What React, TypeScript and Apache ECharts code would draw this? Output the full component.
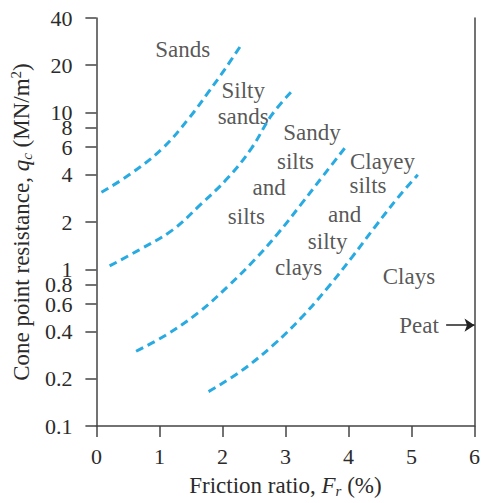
import React, { useEffect, useRef } from "react";
import * as echarts from "echarts";

// Friction ratio Fr (%) and cone resistance qc (MN/m2) along each zone boundary
const boundary1Fr = [0.08, 0.52, 1.05, 1.47, 1.78, 2.04, 2.3];
const boundary1Qc = [3.1, 4.0, 5.9, 9.2, 13.5, 18.9, 27];
const boundary2Fr = [0.21, 0.68, 1.2, 1.66, 2.09, 2.46, 2.78, 3.09];
const boundary2Qc = [1.05, 1.33, 1.77, 2.6, 3.84, 5.9, 9.6, 13.5];
const boundary3Fr = [0.63, 1.1, 1.62, 2.09, 2.51, 2.88, 3.25, 3.61, 3.98];
const boundary3Qc = [0.3, 0.38, 0.53, 0.78, 1.15, 1.69, 2.6, 4.0, 6.2];
const boundary4Fr = [1.78, 2.28, 2.8, 3.27, 3.69, 4.06, 4.42, 4.79, 5.1];
const boundary4Qc = [0.166, 0.222, 0.327, 0.5, 0.78, 1.2, 1.86, 2.88, 4.0];

const yTickValues = [0.1, 0.2, 0.4, 0.6, 0.8, 1, 2, 4, 6, 8, 10, 20, 40];
const xTickValues = [0, 1, 2, 3, 4, 5, 6];

// zone labels: text, Fr, qc
const zoneLabelTexts = ["Sands", "Silty", "sands", "Sandy", "silts", "and", "silts", "Clayey", "silts", "and", "silty", "clays", "Clays", "Peat"];
const zoneLabelFr = [1.37, 2.33, 2.33, 3.42, 3.16, 2.74, 2.38, 4.54, 4.31, 3.94, 3.67, 3.21, 4.96, 5.12];
const zoneLabelQc = [25.2, 13.8, 9.4, 7.4, 4.9, 3.3, 2.18, 4.9, 3.4, 2.25, 1.5, 1.02, 0.9, 0.44];

// Peat arrow (Fr start, Fr end, qc)
const peatArrowFr = [5.55, 6.0];
const peatArrowQc = 0.44;

const YMIN = 0.1;
const YMAX = 40;

const FONT = "'Liberation Serif', 'Times New Roman', serif";
const TEXT_COLOR = "#2b2b2b";
const AXIS_COLOR = "#444";
const CURVE_COLOR = "#29abe2";

const lg = (v: number) => Math.log10(v);

function curve(fr: number[], qc: number[]) {
  return fr.map((x, i) => [x, lg(qc[i])]);
}

const TITLE_SIZE = 23;
const titleRich = {
  a: { fontFamily: FONT, fontSize: TITLE_SIZE, color: TEXT_COLOR, lineHeight: 26 },
  i: { fontFamily: FONT, fontSize: TITLE_SIZE, fontStyle: "italic", color: TEXT_COLOR, lineHeight: 26 },
  sub: { fontFamily: FONT, fontSize: 15, fontStyle: "italic", color: TEXT_COLOR, verticalAlign: "bottom", lineHeight: 15, padding: [11, 0, 0, 0] },
  sup: { fontFamily: FONT, fontSize: 15, color: TEXT_COLOR, verticalAlign: "top", lineHeight: 15, padding: [0, 0, 9, 0] },
};

export default function App() {
  const ref = useRef<HTMLDivElement>(null);
  useEffect(() => {
    document.body.style.margin = "0";
    document.body.style.background = "#fff";
    if (!ref.current) return;
    const chart = echarts.init(ref.current, undefined, { renderer: "svg" });

    const curveSeries = [
      curve(boundary1Fr, boundary1Qc),
      curve(boundary2Fr, boundary2Qc),
      curve(boundary3Fr, boundary3Qc),
      curve(boundary4Fr, boundary4Qc),
    ].map((data) => ({
      type: "line",
      data,
      smooth: 0.4,
      showSymbol: false,
      silent: true,
      lineStyle: { color: CURVE_COLOR, width: 3, type: [8, 5], cap: "butt" },
    }));

    const option: any = {
      animation: false,
      backgroundColor: "#fff",
      grid: { left: 95, right: 5, top: 18, bottom: 71, containLabel: false },
      xAxis: {
        type: "value",
        min: 0,
        max: 6,
        interval: 1,
        name: "{a|Friction ratio, }{i|F}{sub|r}{a| (%)}",
        nameLocation: "middle",
        nameGap: 40,
        nameTextStyle: { rich: titleRich },
        axisLine: { show: true, onZero: false, lineStyle: { color: AXIS_COLOR, width: 1.5 } },
        axisTick: { show: true, inside: false, length: 11, lineStyle: { color: AXIS_COLOR, width: 1.5 } },
        axisLabel: {
          margin: 19,
          fontFamily: FONT,
          fontSize: 22,
          color: TEXT_COLOR,
          customValues: xTickValues,
        },
        splitLine: { show: false },
      },
      yAxis: [
        {
          type: "value",
          min: lg(YMIN),
          max: lg(YMAX),
          name: "{a|Cone point resistance, }{i|q}{sub|c}{a| (MN/m}{sup|2}{a|)}",
          nameLocation: "middle",
          nameGap: 60,
          nameRotate: 90,
          nameTextStyle: { rich: titleRich },
          axisLine: { show: true, onZero: false, lineStyle: { color: AXIS_COLOR, width: 1.5 } },
          axisTick: {
            show: true,
            inside: false,
            length: 11,
            lineStyle: { color: AXIS_COLOR, width: 1.5 },
            customValues: yTickValues.map(lg),
          },
          axisLabel: {
            margin: 24,
            fontFamily: FONT,
            fontSize: 22,
            lineHeight: 13,
            color: TEXT_COLOR,
            customValues: yTickValues.map(lg),
            formatter: (v: number) => String(parseFloat(Math.pow(10, v).toPrecision(3))),
          },
          splitLine: { show: false },
        },
        {
          type: "value",
          position: "right",
          min: lg(YMIN),
          max: lg(YMAX),
          axisLine: { show: true, onZero: false, lineStyle: { color: AXIS_COLOR, width: 1.5 } },
          axisTick: { show: false },
          axisLabel: { show: false },
          splitLine: { show: false },
        },
      ],
      series: [
        ...curveSeries,
        {
          type: "scatter",
          symbolSize: 0,
          silent: true,
          data: zoneLabelTexts.map((t, i) => ({ name: t, value: [zoneLabelFr[i], lg(zoneLabelQc[i])] })),
          label: {
            show: true,
            position: "inside",
            formatter: "{b}",
            fontFamily: FONT,
            fontSize: 23,
            lineHeight: 20,
            color: TEXT_COLOR,
          },
        },
        {
          type: "lines",
          coordinateSystem: "cartesian2d",
          silent: true,
          symbol: ["none", "arrow"],
          symbolSize: [0, 10],
          lineStyle: { color: "#222", width: 1.5, opacity: 1 },
          data: [
            {
              coords: [
                [peatArrowFr[0], lg(peatArrowQc)],
                [peatArrowFr[1], lg(peatArrowQc)],
              ],
            },
          ],
        },
      ],
    };
    chart.setOption(option);
    return () => chart.dispose();
  }, []);
  return <div ref={ref} style={{ width: 483, height: 503 }} />;
}
